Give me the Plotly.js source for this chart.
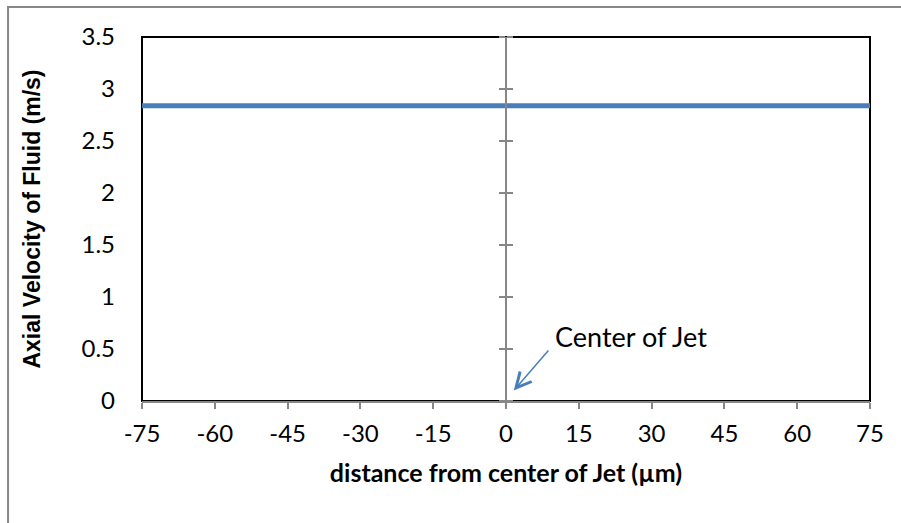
<!DOCTYPE html>
<html>
<head>
<meta charset="utf-8">
<script src="https://cdn.plot.ly/plotly-3.0.1.min.js"></script>
<style>
  html, body { margin: 0; padding: 0; background: #fff; overflow: hidden; }
  #chart { width: 901px; height: 523px; }
</style>
</head>
<body>
<div id="chart"></div>
<script>
// Axial velocity profile across the jet
const distance = [-75, 75];          // µm from jet centre
const axialVelocity = [2.84, 2.84];  // m/s
const xTicks = [-75, -60, -45, -30, -15, 0, 15, 30, 45, 60, 75];
const yTicks = [0, 0.5, 1, 1.5, 2, 2.5, 3, 3.5];
const arrowTip = { x: 1.6, y: 0.1 };
const arrowTail = { x: 9.0, y: 0.5 };
const calloutAt = { x: 9.8, y: 0.62 };
const calloutText = 'Center of Jet';

const gray = '#878787';
const blue = '#4a7ebb';
const tickFont = { family: 'Lato, "Open Sans", sans-serif', size: 24, color: '#000' };

const trace = {
  x: distance,
  y: axialVelocity,
  type: 'scatter',
  mode: 'lines',
  line: { color: blue, width: 5 },
  hoverinfo: 'skip'
};

// centre axis: two overlaid axes give ticks on both sides of x = 0
const centreAxis = {
  overlaying: 'y',
  anchor: 'free',
  position: 0.5,
  range: [0, 3.5],
  tickvals: yTicks,
  showticklabels: false,
  showgrid: false,
  zeroline: false,
  showline: true,
  linecolor: gray,
  linewidth: 2,
  ticks: 'outside',
  ticklen: 6,
  tickwidth: 2,
  tickcolor: gray
};

const layout = {
  width: 901,
  height: 523,
  margin: { l: 142, r: 31, t: 37, b: 122 },
  paper_bgcolor: '#fff',
  plot_bgcolor: '#fff',
  showlegend: false,
  xaxis: {
    range: [-75, 75],
    tickvals: xTicks,
    ticktext: xTicks.map(String),
    tickfont: tickFont,
    ticklabelstandoff: 4,
    showgrid: false,
    zeroline: false,
    showline: true,
    linecolor: gray,
    linewidth: 2,
    ticks: 'outside',
    ticklen: 6,
    tickwidth: 2,
    tickcolor: gray,
    title: {
      text: 'distance from center of Jet (µm)',
      font: { family: 'Lato, "Open Sans", sans-serif', size: 25, color: '#000', weight: 'bold' },
      standoff: 19
    }
  },
  yaxis: {
    range: [0, 3.5],
    tickvals: yTicks,
    ticktext: yTicks.map(String),
    tickfont: tickFont,
    ticklabelstandoff: 26,
    showgrid: false,
    zeroline: false,
    showline: false,
    ticks: '',
    title: {
      text: 'Axial Velocity of Fluid (m/s)',
      font: { family: '"Liberation Sans", Arial, sans-serif', size: 23, color: '#000', weight: 'bold' },
      standoff: 34
    }
  },
  yaxis2: Object.assign({}, centreAxis, { side: 'left' }),
  yaxis3: Object.assign({}, centreAxis, { side: 'right' }),
  shapes: [
    // plot-area frame
    { type: 'rect', xref: 'paper', yref: 'paper', x0: 0, x1: 1, y0: 0, y1: 1,
      line: { color: '#000', width: 2 }, layer: 'below' },
    // chart-area frame
    { type: 'rect', xref: 'paper', yref: 'paper', x0: -0.184, x1: 1.2, y0: -0.5, y1: 1.0824,
      line: { color: gray, width: 2 }, layer: 'below' }
  ],
  annotations: [
    // callout arrow pointing at the jet centre
    {
      x: arrowTip.x, y: arrowTip.y, xref: 'x', yref: 'y',
      ax: arrowTail.x, ay: arrowTail.y, axref: 'x', ayref: 'y',
      text: '',
      showarrow: true,
      arrowhead: 5,
      arrowsize: 2,
      arrowwidth: 1.5,
      arrowcolor: blue
    },
    // callout label
    {
      x: calloutAt.x, y: calloutAt.y, xref: 'x', yref: 'y',
      text: calloutText,
      font: { family: 'Lato, "Open Sans", sans-serif', size: 27, color: '#000' },
      showarrow: false,
      xanchor: 'left', yanchor: 'middle',
      borderpad: 0
    }
  ]
};

const traces = [
  trace,
  { x: [0], y: [0], yaxis: 'y2', mode: 'markers', marker: { opacity: 0 }, hoverinfo: 'skip' },
  { x: [0], y: [0], yaxis: 'y3', mode: 'markers', marker: { opacity: 0 }, hoverinfo: 'skip' }
];

Plotly.newPlot('chart', traces, layout, { staticPlot: true, displayModeBar: false });
</script>
</body>
</html>
